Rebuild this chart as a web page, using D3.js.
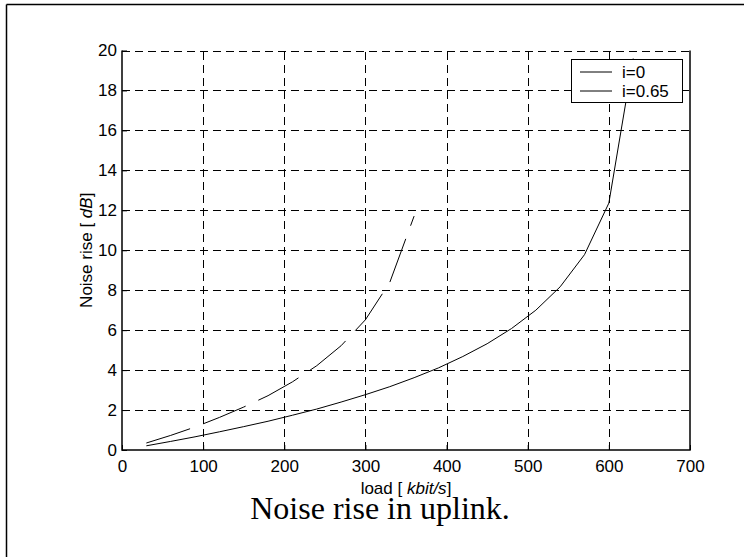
<!DOCTYPE html>
<html>
<head>
<meta charset="utf-8">
<script src="https://cdn.jsdelivr.net/npm/d3@7"></script>
<style>
    body { margin: 0; background: #fff; }
    svg { display: block; }
</style>
</head>
<body>
<svg id="chart" width="744" height="557"></svg>
<script>
const width = 744;
const height = 557;

// load in kbit/s, noise rise in dB
const loadI0 = [30, 60, 90, 120, 150, 180, 210, 240, 270, 300, 330, 360, 390, 420, 450, 480, 510, 540, 570, 600, 630];
const riseI0 = [0.21, 0.43, 0.66, 0.91, 1.17, 1.44, 1.74, 2.05, 2.4, 2.77, 3.17, 3.62, 4.11, 4.68, 5.32, 6.08, 7.0, 8.17, 9.78, 12.36, 19.6];
const loadI065 = [30, 60, 90, 120, 150, 180, 210, 240, 270, 300, 330, 360];
const riseI065 = [0.35, 0.73, 1.15, 1.63, 2.15, 2.72, 3.41, 4.22, 5.22, 6.52, 8.39, 11.71];

const xTicks = [0, 100, 200, 300, 400, 500, 600, 700];
const yTicks = [0, 2, 4, 6, 8, 10, 12, 14, 16, 18, 20];
const legendLabels = ["i=0", "i=0.65"];

const margin = { left: 122, right: 54, top: 50.5, bottom: 107 };
const svg = d3.select("#chart");
const sans = "'Liberation Sans', Arial, sans-serif";

const x = d3.scaleLinear().domain([0, 700]).range([margin.left, width - margin.right]);
const y = d3.scaleLinear().domain([0, 20]).range([height - margin.bottom, margin.top]);

// outer figure frame (left and top only)
svg.append("line").attr("x1", 6.5).attr("x2", 6.5).attr("y1", 4.5).attr("y2", height)
    .attr("stroke", "#000").attr("stroke-width", 1.5);
svg.append("line").attr("x1", 6.5).attr("x2", width).attr("y1", 4.5).attr("y2", 4.5)
    .attr("stroke", "#000").attr("stroke-width", 1.5);

// grid
const grid = svg.append("g").attr("stroke", "#000").attr("stroke-width", 1).attr("stroke-dasharray", "8,5");
grid.selectAll(".gx").data(xTicks.slice(1, -1)).enter().append("line")
    .attr("x1", d => Math.round(x(d)) + 0.5).attr("x2", d => Math.round(x(d)) + 0.5)
    .attr("y1", y(0)).attr("y2", y(20));
grid.selectAll(".gy").data(yTicks.slice(1)).enter().append("line")
    .attr("x1", x(0)).attr("x2", x(700))
    .attr("y1", d => Math.round(y(d)) + 0.5).attr("y2", d => Math.round(y(d)) + 0.5);

// curves
const line = d3.line().x(d => x(d[0])).y(d => y(d[1]));
svg.append("path")
    .datum(d3.zip(loadI0, riseI0))
    .attr("d", line)
    .attr("fill", "none").attr("stroke", "#000").attr("stroke-width", 1);
svg.append("path")
    .datum(d3.zip(loadI065, riseI065))
    .attr("d", line)
    .attr("fill", "none").attr("stroke", "#000").attr("stroke-width", 1)
    .attr("stroke-dasharray", "46,14");

// axes box
svg.append("path")
    .attr("d", `M${x(0)},${y(20)}V${y(0)}H${x(700)}V${y(20)}`)
    .attr("fill", "none").attr("stroke", "#000").attr("stroke-width", 1.5);

// ticks (inward) with d3 axes
const xAxis = svg.append("g").attr("transform", `translate(0,${y(0)})`)
    .call(d3.axisBottom(x).tickValues(xTicks).tickSize(-5).tickPadding(10).tickFormat(d3.format("d")));
const yAxis = svg.append("g").attr("transform", `translate(${x(0)},0)`)
    .call(d3.axisLeft(y).tickValues(yTicks).tickSize(-5).tickPadding(5).tickFormat(d3.format("d")));
[xAxis, yAxis].forEach(g => {
    g.select(".domain").remove();
    g.selectAll("line").attr("stroke", "#000");
    g.selectAll("text").attr("font-family", sans).attr("font-size", 17).attr("fill", "#000");
});

// axis labels
const xLabel = svg.append("text")
    .attr("x", x(350)).attr("y", 494)
    .attr("text-anchor", "middle")
    .attr("font-family", sans).attr("font-size", 17);
xLabel.append("tspan").text("load [ ");
xLabel.append("tspan").attr("font-style", "italic").text("kbit/s");
xLabel.append("tspan").text("]");

const yLabel = svg.append("text")
    .attr("transform", `translate(92,${y(10)}) rotate(-90)`)
    .attr("text-anchor", "middle")
    .attr("font-family", sans).attr("font-size", 17);
yLabel.append("tspan").text("Noise rise [ ");
yLabel.append("tspan").attr("font-style", "italic").text("dB");
yLabel.append("tspan").text("]");

// caption
svg.append("text")
    .attr("x", 380).attr("y", 519)
    .attr("text-anchor", "middle")
    .attr("font-family", "'Liberation Serif', 'Times New Roman', serif")
    .attr("font-size", 32)
    .text("Noise rise in uplink.");

// legend
const legend = svg.append("g");
legend.append("rect")
    .attr("x", 571.5).attr("y", 59.5).attr("width", 111).attr("height", 43)
    .attr("fill", "#fff").attr("stroke", "#000").attr("stroke-width", 1);
legend.selectAll(".item").data(legendLabels).enter().append("g")
    .each(function (d, i) {
        const g = d3.select(this);
        const cy = 72 + i * 19;
        g.append("line").attr("x1", 580).attr("x2", 612).attr("y1", cy).attr("y2", cy)
            .attr("stroke", "#000").attr("stroke-width", 1);
        g.append("text").attr("x", 622).attr("y", cy + 6)
            .attr("font-family", sans).attr("font-size", 17).text(d);
    });
</script>
</body>
</html>
